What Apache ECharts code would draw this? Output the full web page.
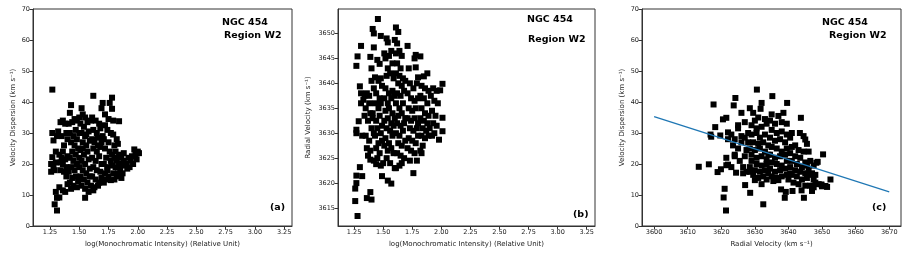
<!DOCTYPE html>
<html><head><meta charset="utf-8">
<script src="https://cdn.jsdelivr.net/npm/echarts@6/dist/echarts.min.js"></script>
<style>html,body{margin:0;padding:0;background:#fff}#c{width:910px;height:259px}</style>
</head><body><div id="c"></div>
<script>
// Panel (a): log intensity vs velocity dispersion
const panelA = [
[1.27,44],[1.27,30],[1.28,27.6],[1.27,22.2],[1.26,20],[1.26,17.5],[1.28,19],[1.30,24],[1.29,18],[1.30,11],[1.31,9.1],[1.29,7],[1.31,5],[1.33,9.2],[1.30,20.5],[1.32,30.5],[1.31,29],
[1.34,33.5],[1.36,34],[1.35,29],[1.37,26],[1.33,23],[1.35,22],[1.36,20],[1.34,18],[1.37,17.5],[1.38,21.5],[1.39,19],[1.33,12.5],[1.36,11.5],[1.38,11],[1.39,30],[1.38,33],[1.40,28],[1.36,24],[1.34,20.5],[1.40,22.5],[1.40,13.5],[1.39,16],
[1.43,39],[1.42,36.5],[1.41,33],[1.44,33.5],[1.46,34.5],[1.42,30],[1.45,29],[1.47,31],[1.43,27],[1.46,26],[1.48,28],[1.44,24],[1.47,23],[1.42,22],[1.45,21],[1.49,25],[1.43,19],[1.46,18],[1.48,20],[1.41,17.5],[1.44,15.5],[1.47,16],[1.42,14],[1.45,13],[1.48,12.5],[1.43,12],[1.49,14.5],[1.50,35],[1.48,34],[1.50,30],[1.50,19],[1.50,22],
[1.52,38],[1.53,36],[1.55,35],[1.51,33],[1.54,32],[1.57,33.5],[1.52,30],[1.55,29],[1.58,30.5],[1.53,27],[1.56,26],[1.59,27.5],[1.51,24.5],[1.54,23],[1.57,24],[1.52,21],[1.55,20],[1.58,21.5],[1.53,18],[1.56,17],[1.59,18.5],[1.51,16],[1.54,15],[1.57,14],[1.52,13],[1.55,12],[1.58,11],[1.55,9.1],[1.60,13],[1.59,16],[1.56,29.5],[1.60,34],[1.53,25],
[1.62,42],[1.61,35],[1.64,34],[1.67,33],[1.62,31],[1.65,30],[1.68,31.5],[1.61,28],[1.63,27],[1.66,28.5],[1.69,27],[1.62,25],[1.65,24],[1.68,25.5],[1.61,22],[1.64,21],[1.67,22.5],[1.69,20],[1.62,19],[1.65,18],[1.68,17.5],[1.61,16],[1.64,15],[1.67,14],[1.63,12.5],[1.66,13],[1.62,11.5],[1.69,15.5],[1.70,39.7],[1.69,38],[1.70,29],[1.66,26],
[1.76,39.7],[1.78,41.4],[1.78,37.8],[1.72,36],[1.75,34.5],[1.72,32.5],[1.74,31],[1.77,30],[1.71,28],[1.75,27],[1.79,29.5],[1.72,25],[1.76,24],[1.73,22],[1.77,21],[1.80,22],[1.71,20],[1.74,19],[1.78,19.5],[1.72,17],[1.75,16],[1.79,17],[1.73,15],[1.77,14.8],[1.80,15],[1.71,14],[1.74,18],[1.78,23],[1.80,26],[1.79,34],
[1.84,33.8],[1.82,28],[1.83,26.5],[1.81,24],[1.85,23],[1.82,21],[1.86,22],[1.84,20],[1.88,21],[1.81,19],[1.85,18.5],[1.89,19.5],[1.83,17],[1.87,17],[1.82,16],[1.86,15.5],[1.84,22.5],[1.88,23.5],[1.90,20],
[1.92,22],[1.95,22.5],[1.97,24.7],[2.00,24],[2.01,23.5],[1.99,21.5],[1.93,19],[1.96,20],[1.91,18.5],[1.94,21],[1.98,23]
];
// Panel (b): log intensity vs radial velocity
const panelB = [
[1.27,3643.5],[1.28,3645.4],[1.31,3647.5],[1.30,3639.4],[1.31,3638],[1.33,3636.7],[1.29,3632.4],[1.27,3630.7],[1.27,3630],[1.30,3623.2],[1.27,3621.5],[1.32,3621.4],[1.27,3620],[1.26,3618.9],[1.26,3616.4],[1.28,3613.4],[1.32,3629.5],[1.31,3636],
[1.34,3637.5],[1.36,3638],[1.35,3635],[1.38,3636],[1.34,3633.5],[1.37,3632.5],[1.39,3634],[1.35,3629.5],[1.38,3628.5],[1.36,3627],[1.39,3626.5],[1.37,3625.5],[1.39,3624.7],[1.36,3617],[1.39,3618.2],[1.40,3616.7],[1.39,3645.3],[1.40,3643],[1.40,3640.5],[1.38,3637.5],[1.40,3631],
[1.455,3652.9],[1.41,3650.9],[1.42,3650],[1.42,3647.2],[1.48,3649.5],[1.45,3644.7],[1.47,3643.9],[1.43,3641.2],[1.46,3640.5],[1.48,3641],[1.42,3639],[1.44,3638],[1.47,3637],[1.49,3639.5],[1.43,3636],[1.46,3635],[1.48,3636],[1.41,3633],[1.44,3632.5],[1.47,3633.5],[1.49,3631.5],[1.42,3630],[1.45,3631],[1.48,3630],[1.43,3629.5],[1.46,3628],[1.49,3628.5],[1.44,3627],[1.47,3626],[1.42,3624.5],[1.44,3623.8],[1.49,3621.4],[1.48,3623.5],[1.41,3634],[1.45,3625],
[1.53,3649],[1.54,3648.2],[1.51,3646],[1.55,3645.5],[1.52,3645],[1.57,3646.5],[1.54,3643],[1.58,3644],[1.53,3641.5],[1.56,3642],[1.59,3641],[1.52,3639],[1.55,3638],[1.58,3638.5],[1.51,3637],[1.54,3636],[1.57,3637],[1.60,3637.5],[1.52,3634.5],[1.55,3635],[1.58,3634],[1.51,3632.5],[1.54,3633],[1.57,3632],[1.60,3633],[1.53,3631],[1.56,3630.5],[1.59,3631.5],[1.52,3629],[1.55,3628],[1.58,3629.5],[1.51,3627.5],[1.54,3626.5],[1.57,3627],[1.53,3625],[1.56,3624],[1.59,3626],[1.50,3624],[1.54,3620.5],[1.57,3619.9],[1.60,3623],
[1.61,3651.2],[1.63,3650.3],[1.60,3648.7],[1.62,3648],[1.61,3646],[1.64,3646.5],[1.66,3645.5],[1.62,3644],[1.65,3643],[1.61,3642],[1.64,3641.5],[1.67,3641],[1.63,3640],[1.66,3639.5],[1.69,3640.5],[1.62,3638],[1.65,3637.5],[1.68,3638.5],[1.61,3636],[1.64,3635],[1.67,3636],[1.63,3633.5],[1.66,3634],[1.69,3633],[1.62,3632],[1.65,3631.5],[1.68,3632],[1.61,3630],[1.64,3629.5],[1.67,3630.5],[1.63,3628],[1.66,3627.5],[1.69,3628.5],[1.62,3626],[1.65,3625.5],[1.68,3625],[1.64,3623.5],[1.66,3624],[1.61,3623],[1.71,3647.5],
[1.72,3643],[1.78,3645.7],[1.77,3645],[1.78,3643.2],[1.80,3641.2],[1.73,3640],[1.76,3639],[1.79,3640],[1.71,3638],[1.74,3637],[1.77,3636.5],[1.80,3637],[1.72,3635],[1.75,3634.5],[1.78,3635],[1.71,3633],[1.74,3632.5],[1.77,3633],[1.80,3632],[1.73,3631],[1.76,3630.5],[1.79,3631],[1.72,3629],[1.75,3628.5],[1.78,3628],[1.71,3627],[1.74,3626.5],[1.77,3626],[1.76,3622],[1.73,3624.5],[1.79,3624.5],[1.80,3629.5],
[1.82,3645.4],[1.85,3641.4],[1.88,3642],[1.83,3639.5],[1.86,3639],[1.89,3638.5],[1.82,3637.5],[1.85,3637],[1.88,3636],[1.83,3635],[1.86,3634],[1.89,3633.5],[1.82,3633],[1.85,3632.5],[1.88,3632],[1.84,3631],[1.87,3630.5],[1.90,3631],[1.83,3629.5],[1.86,3629],[1.89,3629.5],[1.84,3627.5],[1.82,3626.5],[1.83,3626],
[2.01,3639.9],[1.99,3638.6],[1.93,3639],[1.96,3638.5],[1.91,3637.5],[1.94,3636.5],[1.97,3636],[1.92,3634.5],[1.95,3633.5],[2.01,3633.1],[1.93,3632],[1.96,3631.5],[2.01,3630.4],[1.98,3628.7],[1.92,3629.5],[1.94,3630]
];
// Panel (c): radial velocity vs velocity dispersion
const panelC = [
[3613.3,19.1],[3616.3,19.9],[3616.8,29.5],[3617,28.8],[3617.7,39.2],[3618.2,31.9],[3618.9,17.4],[3619.9,18.3],[3619.7,29.2],[3620.5,34.4],[3621.5,34.9],[3621.4,5.0],[3621.5,22],[3621.5,19.6],[3622,19.8],[3621,12],[3620.7,9.2],[3622,30.2],[3622,28],
[3624.2,41.3],[3623.7,38.9],[3624.4,17.2],[3623,29.5],[3624,28],[3625,32.5],[3623.5,26],[3625,25],[3624,23],[3626,29],[3626,27],[3627,28.5],[3623,19],[3625.5,21],[3626.5,19],[3627,22.5],[3627.5,24.5],[3626,36.5],[3627,33.5],[3625,31.5],[3627.1,13.2],[3627.5,17.5],[3626.5,17],[3624,22.5],[3628,30],[3628,27],
[3628.6,10.7],[3632.5,7.0],[3630.6,44],[3632,39.7],[3631.7,37.8],[3628.5,38],[3629.5,36.5],[3630,34],[3631,35],[3633,34.5],[3629,32.5],[3630.5,31.5],[3632,32],[3633.5,33],[3629,29.5],[3630.5,30],[3631.5,28.5],[3633,29.5],[3629.5,27],[3631,26.5],[3632.5,27],[3634,26],[3628.5,25],[3630,24.5],[3631.5,25],[3633,24],[3629,23],[3630.5,22],[3632,22.5],[3633.5,21.5],[3629,21],[3630.5,20],[3632,19.5],[3633.5,20],[3628.5,19],[3630,18],[3631.5,17.5],[3633,18],[3629.5,16.5],[3631,15.5],[3632.5,16],[3634,17],[3630,14.8],[3632,13.5],[3633.5,15],[3628.5,17.5],[3634,23],
[3635.2,41.9],[3639.6,39.7],[3635,36],[3637,35.5],[3638.5,36.5],[3634.5,34],[3636,33],[3638,33.5],[3639.5,33],[3635,31],[3636.5,30],[3638,30.5],[3639.5,29.5],[3634.5,28.5],[3636,27.5],[3637.5,28],[3639,27],[3635,25.5],[3636.5,25],[3638,24],[3639.5,25],[3634.5,23],[3636,22],[3637.5,22.5],[3639,23],[3635,20.5],[3636.5,20],[3638,19.5],[3639.5,21],[3634.5,18.5],[3636,17.5],[3637.5,18],[3639,18.5],[3635,16],[3636.5,15.5],[3638,16],[3639.5,16.5],[3635.5,14.5],[3637,14.8],[3638.9,9.1],[3639.2,11],[3637.8,11.8],[3640,15],
[3641.2,11.3],[3643.7,34.9],[3644.6,9.1],[3643.9,11.5],[3643.4,30],[3644.5,29],[3645,27.9],[3645.5,26.5],[3641,30],[3640.5,28.5],[3642,26],[3641,25.5],[3643,24.5],[3644.5,24],[3640.5,23.5],[3642,22.5],[3643.5,22],[3645,20.5],[3641,21],[3642.5,20],[3644,19],[3645.5,19.5],[3640.5,19],[3642,18],[3643.5,17.5],[3645,17],[3641,16.5],[3642.5,16],[3644,15],[3645.5,15.5],[3641.5,14],[3643,13.5],[3645,13],[3646,24],[3640.5,17],
[3647,11.3],[3648.3,20.4],[3648.7,20.7],[3650.3,23.1],[3651,12.9],[3649.8,13.4],[3652.5,15],[3646.5,16.5],[3647.5,15],[3648,14],[3649,13.5],[3646.5,13],[3647.5,12.5],[3650,13],[3646,18],[3647,17],[3648,16.5],[3646.5,21],[3647.5,19.5],[3650,12.8],[3651.5,12.6]
];
// Linear fit shown in panel (c)
const fitLine = [[3600,35.3],[3670,11.0]];
// Tick labels
const intensityTicks = [1.25,1.5,1.75,2.0,2.25,2.5,2.75,3.0,3.25];
const velTicksB = [3615,3620,3625,3630,3635,3640,3645,3650];
const velTicksC = [3600,3610,3620,3630,3640,3650,3660,3670];

const FONT = 'DejaVu Sans';
const axisCol = '#333';
function baseAxis(extra) {
  return Object.assign({
    type: 'value',
    axisLine: {show: true, onZero: false, lineStyle: {color: axisCol, width: 1}},
    axisTick: {show: true, inside: false, length: 3.5, lineStyle: {color: axisCol}},
    axisLabel: {fontSize: 6.5, color: '#222', fontFamily: FONT, margin: 3},
    splitLine: {show: false},
    nameLocation: 'middle',
    nameTextStyle: {fontSize: 7, color: '#222', fontFamily: FONT}
  }, extra);
}
function withCustom(ax, vals, fmt) {
  ax.axisTick.customValues = vals;
  ax.axisLabel.customValues = vals;
  if (fmt) ax.axisLabel.formatter = fmt;
  return ax;
}
const grids = [
  {left: 33, top: 9, width: 259, height: 217},
  {left: 338, top: 9, width: 257, height: 217},
  {left: 642, top: 9, width: 259, height: 217}
].map(g => Object.assign(g, {show: true, borderColor: axisCol, borderWidth: 1, backgroundColor: 'transparent'}));

const xAxes = [
  withCustom(baseAxis({gridIndex: 0, min: 1.105, max: 3.317, name: 'log(Monochromatic Intensity) (Relative Unit)', nameGap: 14}), intensityTicks, v => v.toFixed(2)),
  withCustom(baseAxis({gridIndex: 1, min: 1.112, max: 3.321, name: 'log(Monochromatic Intensity) (Relative Unit)', nameGap: 14}), intensityTicks, v => v.toFixed(2)),
  withCustom(baseAxis({gridIndex: 2, min: 3596.4, max: 3673.5, name: 'Radial Velocity (km s\u207B\u00B9)', nameGap: 14}), velTicksC, v => String(Math.round(v)))
];
const yAxes = [
  baseAxis({gridIndex: 0, min: 0, max: 70, interval: 10, name: 'Velocity Dispersion (km s\u207B\u00B9)', nameGap: 16}),
  withCustom(baseAxis({gridIndex: 1, min: 3611.4, max: 3654.9, name: 'Radial Velocity (km s\u207B\u00B9)', nameGap: 26}), velTicksB, v => String(Math.round(v))),
  baseAxis({gridIndex: 2, min: 0, max: 70, interval: 10, name: 'Velocity Dispersion (km s\u207B\u00B9)', nameGap: 16})
];
function scatter(i, data) {
  return {type: 'scatter', xAxisIndex: i, yAxisIndex: i, data: data, symbol: 'rect', symbolSize: 6,
    itemStyle: {color: '#000', opacity: 1}, silent: true};
}
const series = [
  scatter(0, panelA), scatter(1, panelB), scatter(2, panelC),
  {type: 'line', xAxisIndex: 2, yAxisIndex: 2, data: fitLine, showSymbol: false, symbol: 'none',
    lineStyle: {color: '#1f77b4', width: 1.3}, silent: true, z: 3}
];
function label(x, y, t) {
  return {type: 'text', left: x, top: y, style: {text: t, fontSize: 9.5, fontWeight: 'bold', fill: '#000', fontFamily: FONT}};
}
const graphic = [
  label(222, 18, 'NGC 454'), label(224, 31, 'Region W2'), label(270, 203, '(a)'),
  label(527, 15, 'NGC 454'), label(528, 35, 'Region W2'), label(573, 210, '(b)'),
  label(822, 18, 'NGC 454'), label(829, 31, 'Region W2'), label(872, 203, '(c)')
];
const chart = echarts.init(document.getElementById('c'), null, {renderer: 'canvas'});
chart.setOption({animation: false, grid: grids, xAxis: xAxes, yAxis: yAxes, series: series, graphic: graphic});
</script></body></html>
